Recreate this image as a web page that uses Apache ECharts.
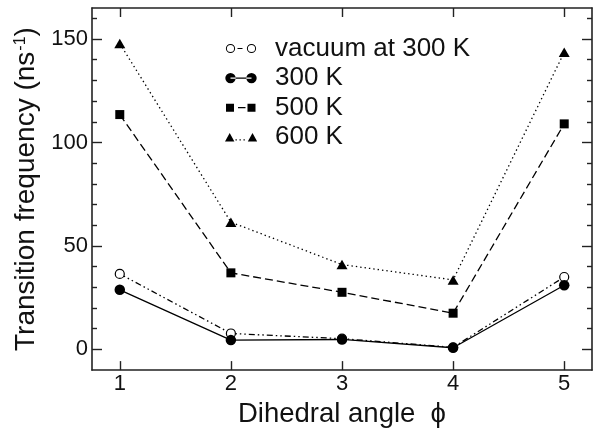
<!DOCTYPE html>
<html>
<head>
<meta charset="utf-8">
<script src="https://cdn.jsdelivr.net/npm/echarts@6/dist/echarts.min.js"></script>
<style>html,body{margin:0;padding:0;background:#fff}#c{width:601px;height:433px}</style>
</head>
<body>
<div id="c"></div>
<script>
// ---- data ----
const angles = [1, 2, 3, 4, 5];
const vacuum300 = [36.5, 7.7, 5.2, 1.0, 35.0];
const k300 = [28.8, 4.5, 4.8, 0.8, 31.0];
const k500 = [113.5, 37.0, 27.6, 17.5, 109.0];
const k600 = [147.8, 61.5, 41.0, 33.6, 143.6];
const seriesNames = ['vacuum at 300 K', '300 K', '500 K', '600 K'];
const xTicks = [1, 2, 3, 4, 5];
const yTicks = [0, 50, 100, 150];
const yMinorTicks = [10, 20, 30, 40, 60, 70, 80, 90, 110, 120, 130, 140, 160];

const FONT = '"Liberation Sans", Arial, Helvetica, sans-serif';
const INK = '#111';
const AX = '#222';

function pairs(ys) { return angles.map((x, i) => [x, ys[i]]); }

// legend icons (icon box 45 x 12; spacer points define the box)
const box = 'M0 0 M45 12 ';
function ring(cx, cy, r, ri) {
  return `M${cx - r} ${cy} A${r} ${r} 0 1 0 ${cx + r} ${cy} A${r} ${r} 0 1 0 ${cx - r} ${cy} Z ` +
         `M${cx - ri} ${cy} A${ri} ${ri} 0 1 1 ${cx + ri} ${cy} A${ri} ${ri} 0 1 1 ${cx - ri} ${cy} Z `;
}
function disc(cx, cy, r) {
  return `M${cx - r} ${cy} A${r} ${r} 0 1 0 ${cx + r} ${cy} A${r} ${r} 0 1 0 ${cx - r} ${cy} Z `;
}
function rect(x, y, w, h) { return `M${x} ${y} L${x + w} ${y} L${x + w} ${y + h} L${x} ${y + h} Z `; }
function tri(cx, cy, w, h) { return `M${cx} ${cy - h / 2} L${cx + w / 2} ${cy + h / 2} L${cx - w / 2} ${cy + h / 2} Z `; }

const icons = [
  'path://' + box + ring(5.5, 6, 4.6, 3.6) + ring(26.5, 6, 4.6, 3.6) + rect(12.5, 5.4, 5, 1.2),
  'path://' + box + disc(5.5, 6, 5.2) + disc(26.5, 6, 5.2) + rect(5.5, 5.4, 21, 1.2),
  'path://' + box + rect(1, 2, 8, 8) + rect(22.5, 2, 8, 8) + rect(13, 5.4, 7.5, 1.2),
  'path://' + box + tri(4.7, 6, 9.4, 8.5) + tri(27.5, 6, 9.4, 8.5) + rect(10.5, 8, 1.3, 1.3) + rect(14.5, 8, 1.3, 1.3) + rect(18.5, 8, 1.3, 1.3)
];

const chart = echarts.init(document.getElementById('c'), null, { renderer: 'canvas' });

function xAxisDef(pos, showLabel) {
  return {
    type: 'value', position: pos, min: 0.75, max: 5.25,
    axisLine: { show: true, onZero: false, lineStyle: { color: AX, width: 1.6 } },
    axisTick: { show: true, inside: true, length: 9, customValues: xTicks, lineStyle: { color: AX, width: 1.4 } },
    axisLabel: { show: showLabel, customValues: xTicks, margin: 3, fontSize: 22, color: INK, fontFamily: FONT },
    splitLine: { show: false },
    name: showLabel ? 'Dihedral angle  \u03D5' : '',
    nameLocation: 'middle', nameGap: 24,
    nameTextStyle: { fontSize: 27.5, color: INK, fontFamily: FONT }
  };
}
function yAxisDef(pos, ticks, len, showLabel, showLine) {
  return {
    type: 'value', position: pos, min: -10, max: 165,
    axisLine: { show: showLine, onZero: false, lineStyle: { color: AX, width: 1.6 } },
    axisTick: { show: true, inside: true, length: len, customValues: ticks, lineStyle: { color: AX, width: 1.4 } },
    axisLabel: { show: showLabel, customValues: ticks, margin: 4, fontSize: 22, color: INK, fontFamily: FONT },
    splitLine: { show: false },
    name: showLabel ? 'Transition frequency (ns{sup|-1})' : '',
    nameLocation: 'middle', nameGap: 46,
    nameTextStyle: {
      fontSize: 28, color: INK, fontFamily: FONT,
      rich: { sup: { fontSize: 16, color: INK, fontFamily: FONT, verticalAlign: 'top', padding: [0, 0, 0, 1] } }
    }
  };
}

const option = {
  backgroundColor: '#fff',
  animation: false,
  grid: { left: 92, right: 9, top: 8, bottom: 61, containLabel: false },
  xAxis: [xAxisDef('bottom', true), xAxisDef('top', false)],
  yAxis: [
    yAxisDef('left', yTicks, 10, true, true),
    yAxisDef('left', yMinorTicks, 5, false, false),
    yAxisDef('right', yTicks, 10, false, true),
    yAxisDef('right', yMinorTicks, 5, false, false)
  ],
  legend: {
    orient: 'vertical', left: 225, top: 35.5, padding: 0,
    itemWidth: 45, itemHeight: 12, itemGap: 3.6,
    selectedMode: false,
    itemStyle: { color: '#000', borderWidth: 0 },
    lineStyle: { width: 0 },
    textStyle: { fontSize: 26, lineHeight: 26, color: INK, fontFamily: FONT },
    data: seriesNames.map((n, i) => ({ name: n, icon: icons[i] }))
  },
  series: [
    {
      name: seriesNames[0], type: 'line', data: pairs(vacuum300),
      symbol: 'circle', symbolSize: 9,
      itemStyle: { color: '#fff', borderColor: '#000', borderWidth: 1.2 },
      lineStyle: { color: '#000', width: 1.3, type: [6, 3, 1.5, 3, 1.5, 3] },
      z: 2
    },
    {
      name: seriesNames[1], type: 'line', data: pairs(k300),
      symbol: 'circle', symbolSize: 10.5,
      itemStyle: { color: '#000' },
      lineStyle: { color: '#000', width: 1.3, type: 'solid' },
      z: 3
    },
    {
      name: seriesNames[2], type: 'line', data: pairs(k500),
      symbol: 'rect', symbolSize: 9,
      itemStyle: { color: '#000' },
      lineStyle: { color: '#000', width: 1.3, type: [8, 4] },
      z: 3
    },
    {
      name: seriesNames[3], type: 'line', data: pairs(k600),
      symbol: 'triangle', symbolSize: [11, 9.5],
      itemStyle: { color: '#000' },
      lineStyle: { color: '#000', width: 1.3, type: [1.4, 3] },
      z: 3
    }
  ]
};
chart.setOption(option);
</script>
</body>
</html>
